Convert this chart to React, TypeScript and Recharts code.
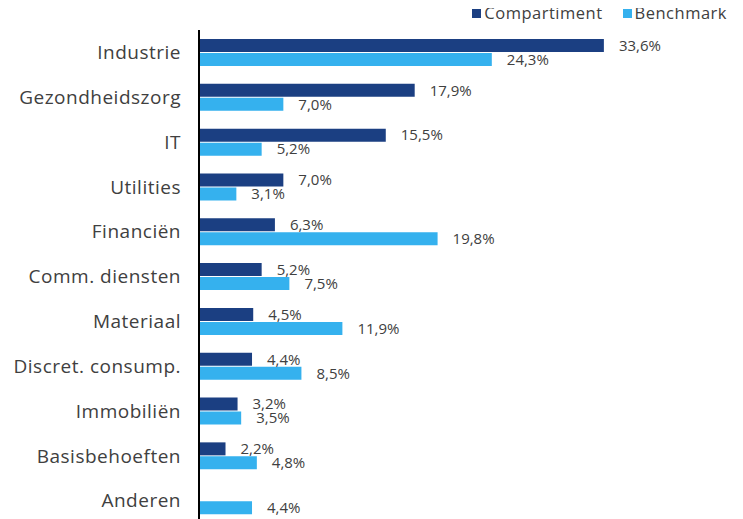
import React from 'react'
import { BarChart, Bar, XAxis, YAxis, Legend, LabelList } from 'recharts'

const categories = [
  'Industrie',
  'Gezondheidszorg',
  'IT',
  'Utilities',
  'Financiën',
  'Comm. diensten',
  'Materiaal',
  'Discret. consump.',
  'Immobiliën',
  'Basisbehoeften',
  'Anderen',
]
const compartiment = [33.6, 17.9, 15.5, 7.0, 6.3, 5.2, 4.5, 4.4, 3.2, 2.2, 0]
const benchmark = [24.3, 7.0, 5.2, 3.1, 19.8, 7.5, 11.9, 8.5, 3.5, 4.8, 4.4]

const data = categories.map((name, i) => ({
  name,
  compartiment: compartiment[i],
  benchmark: benchmark[i],
}))

const NAVY = '#1b3f82'
const LIGHT = '#35b1ee'
const TEXT = '#404040'
const FONT = '"Open Sans", sans-serif'

const fmt = (v: any) => (v ? `${Number(v).toFixed(1).replace('.', ',')}%` : '')

const LegendBox = () => (
  <div
    style={{
      display: 'flex',
      justifyContent: 'flex-end',
      gap: 20,
      fontFamily: FONT,
      fontSize: 16.5,
      letterSpacing: 0.5,
      lineHeight: '20px',
      height: 20,
      color: TEXT,
    }}
  >
    {[
      ['Compartiment', NAVY],
      ['Benchmark', LIGHT],
    ].map(([label, color]) => (
      <span key={label} style={{ display: 'flex', alignItems: 'center' }}>
        <span style={{ width: 9, height: 9, background: color, display: 'inline-block', marginRight: 3 }} />
        {label}
      </span>
    ))}
  </div>
)

export default function App() {
  return (
    <BarChart
      width={735}
      height={520}
      data={data}
      layout="vertical"
      barSize={13}
      barGap={1}
      margin={{ top: 2, right: 62, bottom: 5, left: 0 }}
      style={{ fontFamily: FONT }}
    >
      <XAxis type="number" domain={[0, 40]} hide />
      <YAxis
        type="category"
        dataKey="name"
        width={191}
        tickLine={false}
        tickSize={0}
        tickMargin={18}
        axisLine={{ stroke: '#000', strokeWidth: 2 }}
        tick={{ fill: TEXT, fontSize: 19, fontFamily: FONT, letterSpacing: 0.5 }}
        interval={0}
      />
      <Legend
        verticalAlign="top"
        align="right"
        height={20}
        content={<LegendBox />}
        wrapperStyle={{ top: -5, right: 16, left: 'auto', width: 400, height: 20 }}
      />
      <Bar dataKey="compartiment" name="Compartiment" fill={NAVY} isAnimationActive={false}>
        <LabelList dataKey="compartiment" position="right" offset={15} formatter={fmt} fill={TEXT} fontSize={15} fontFamily={FONT} />
      </Bar>
      <Bar dataKey="benchmark" name="Benchmark" fill={LIGHT} isAnimationActive={false}>
        <LabelList dataKey="benchmark" position="right" offset={15} formatter={fmt} fill={TEXT} fontSize={15} fontFamily={FONT} />
      </Bar>
    </BarChart>
  )
}
